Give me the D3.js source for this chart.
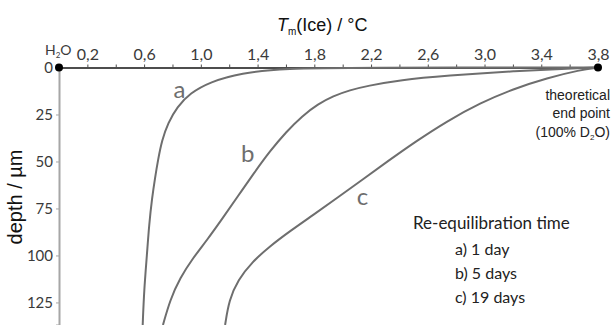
<!DOCTYPE html>
<html>
<head>
<meta charset="utf-8">
<script src="https://cdn.jsdelivr.net/npm/d3@7"></script>
<style>
  body { margin: 0; background: #fff; }
  svg { display: block; }
</style>
</head>
<body>
<div id="chart"></div>
<script>
/* DATA */
// Tm(Ice) in °C against depth in µm
const curveA = [
  [0.59, 137], [0.60, 118.4], [0.62, 99.7], [0.635, 83.8], [0.656, 69.4],
  [0.677, 58.8], [0.698, 49.2], [0.726, 38.6], [0.769, 29.5], [0.832, 21],
  [0.924, 13.6], [1.065, 7.7], [1.276, 2.9], [1.608, 0.4], [2.05, 0], [3.8, 0]
];
const curveB = [
  [0.733, 137], [0.783, 123.7], [0.853, 112], [0.945, 101.3], [1.044, 91.8],
  [1.150, 80.6], [1.262, 68.4], [1.375, 56.1], [1.488, 44.4], [1.601, 34.3],
  [1.714, 25.8], [1.827, 19.4], [1.932, 15.2], [2.052, 12.0], [2.172, 9.8],
  [2.405, 6.6], [2.736, 4.3], [3.202, 1.9], [3.674, 0.3], [3.8, 0]
];
const curveC = [
  [1.171, 137], [1.199, 123.7], [1.262, 113], [1.361, 103.5], [1.488, 95],
  [1.629, 87], [1.791, 78.5], [1.961, 69.4], [2.137, 59.8], [2.321, 49.7],
  [2.510, 39.6], [2.736, 28.5], [2.969, 18.9], [3.202, 11.4], [3.441, 5.6],
  [3.674, 1.3], [3.8, 0]
];
const curveNames = ["a", "b", "c"];
const endPoints = [[0, 0], [3.8, 0]];

const xTicks = [0.2, 0.6, 1.0, 1.4, 1.8, 2.2, 2.6, 3.0, 3.4, 3.8];
const xTickLabels = ["0,2", "0,6", "1,0", "1,4", "1,8", "2,2", "2,6", "3,0", "3,4", "3,8"];
const xMinorTicks = [0.4, 0.8, 1.2, 1.6, 2.0, 2.4, 2.8, 3.2, 3.6];
const yTicks = [0, 25, 50, 75, 100, 125];
const legendLines = ["a) 1 day", "b) 5 days", "c) 19 days"];

/* SETUP */
const width = 611, height = 325;
const grey = "#6e6e6e";

const svg = d3.select("#chart").append("svg")
  .attr("width", width)
  .attr("height", height);

const xScale = d3.scaleLinear().domain([0, 3.8]).range([59, 598]);
const yScale = d3.scaleLinear().domain([0, 137]).range([67.5, 325]);

// y axis (left, light grey)
const yAxis = svg.append("g")
  .attr("transform", `translate(${xScale(0)},0)`)
  .call(d3.axisLeft(yScale).tickValues(yTicks).tickSize(3).tickPadding(3))
yAxis.select(".domain").attr("stroke", "#a6a6a6").attr("stroke-width", 2);
yAxis.selectAll(".tick line").attr("stroke", "#a6a6a6");
yAxis.selectAll(".tick text")
  .attr("fill", "#3a3a3a")
  .style("font-family", "Lato, 'Open Sans', sans-serif")
  .style("font-size", "15px");

// x axis (top)
const allXTicks = xTicks.concat(xMinorTicks).sort(d3.ascending);
const xAxis = svg.append("g")
  .attr("transform", `translate(0,${yScale(0)})`)
  .call(d3.axisTop(xScale).tickValues(allXTicks).tickSize(3).tickPadding(5)
    .tickSizeOuter(0)
    .tickFormat(d => {
      const i = xTicks.findIndex(t => Math.abs(t - d) < 1e-9);
      return i >= 0 ? xTickLabels[i] : "";
    }));
xAxis.select(".domain").attr("stroke", "#4d4d4d").attr("stroke-width", 2);
xAxis.selectAll(".tick line").attr("stroke", "#4d4d4d");
xAxis.selectAll(".tick text")
  .attr("fill", "#3a3a3a")
  .style("font-family", "Lato, 'Open Sans', sans-serif")
  .style("font-size", "16px");

// H2O label
const h2o = svg.append("text")
  .attr("x", 45).attr("y", 55)
  .attr("fill", "#3a3a3a")
  .style("font-family", "Lato, 'Open Sans', sans-serif")
  .style("font-size", "14px");
h2o.append("tspan").text("H");
h2o.append("tspan").attr("dy", 3).style("font-size", "8px").text("2");
h2o.append("tspan").attr("dy", -3).text("O");

// title
const title = svg.append("text")
  .attr("x", 277).attr("y", 31)
  .attr("fill", "#111")
  .style("font-family", "'Liberation Sans', Arial, sans-serif")
  .style("font-size", "18px");
title.append("tspan").style("font-style", "italic").text("T");
title.append("tspan").attr("dy", 4).style("font-size", "10px").text("m");
title.append("tspan").attr("dy", -4).text("(Ice) / °C");

// y label
svg.append("text")
  .attr("transform", "translate(22,197) rotate(-90)")
  .attr("text-anchor", "middle")
  .attr("fill", "#111")
  .style("font-family", "'Liberation Sans', Arial, sans-serif")
  .style("font-size", "20px")
  .text("depth / µm");

/* CURVES */
const line = d3.line()
  .x(d => xScale(d[0]))
  .y(d => yScale(d[1]))
  .curve(d3.curveBasis);

svg.selectAll("path.curve")
  .data([curveA, curveB, curveC])
  .join("path")
  .attr("class", "curve")
  .attr("d", line)
  .attr("fill", "none")
  .attr("stroke", grey)
  .attr("stroke-width", 2);

// curve letters
const letterPos = [[0.85, 11], [1.33, 45], [2.14, 68]];
svg.selectAll("text.letter")
  .data(curveNames)
  .join("text")
  .attr("class", "letter")
  .attr("x", (d, i) => xScale(letterPos[i][0]))
  .attr("y", (d, i) => yScale(letterPos[i][1]))
  .attr("text-anchor", "middle")
  .attr("dominant-baseline", "central")
  .attr("fill", grey)
  .style("font-family", "Lato, 'Open Sans', sans-serif")
  .style("font-size", "24px")
  .text(d => d);

// end points
svg.selectAll("circle")
  .data(endPoints)
  .join("circle")
  .attr("cx", d => xScale(d[0]))
  .attr("cy", d => yScale(d[1]))
  .attr("r", 4)
  .attr("fill", "#000");

// theoretical end point note
const note = svg.append("text")
  .attr("text-anchor", "end")
  .attr("fill", "#222")
  .style("font-family", "'Liberation Sans', Arial, sans-serif")
  .style("font-size", "14px");
note.append("tspan").attr("x", 610).attr("y", 100).text("theoretical");
note.append("tspan").attr("x", 610).attr("y", 118).text("end point");
note.append("tspan").attr("x", 610).attr("y", 137).text("(100% D");
note.append("tspan").attr("dy", 3).style("font-size", "8px").text("2");
note.append("tspan").attr("dy", -3).text("O)");

// legend
svg.append("text")
  .attr("x", 413).attr("y", 229)
  .attr("fill", "#222")
  .style("font-family", "Lato, 'Open Sans', sans-serif")
  .style("font-size", "17px")
  .text("Re-equilibration time");

svg.selectAll("text.legend")
  .data(legendLines)
  .join("text")
  .attr("class", "legend")
  .attr("x", 455)
  .attr("y", (d, i) => 255 + i * 24)
  .attr("fill", "#222")
  .style("font-family", "Lato, 'Open Sans', sans-serif")
  .style("font-size", "16px")
  .text(d => d);
</script>
</body>
</html>
